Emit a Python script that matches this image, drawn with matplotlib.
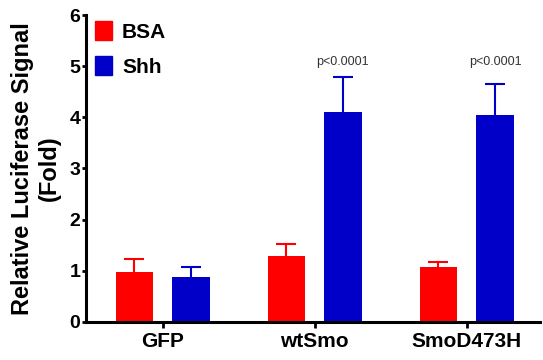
import matplotlib.pyplot as plt
import numpy as np
from matplotlib.patches import Patch

plt.rcParams['font.family'] = ['Liberation Sans', 'DejaVu Sans']

# Data
groups = ['GFP', 'wtSmo', 'SmoD473H']
bsa = [0.98, 1.29, 1.07]
bsa_err = [0.24, 0.23, 0.11]
shh = [0.87, 4.10, 4.04]
shh_err = [0.20, 0.69, 0.62]
p_labels = ['', 'p<0.0001', 'p<0.0001']

red = '#ff0000'
blue = '#0000c8'

fig = plt.figure(figsize=(5.43, 3.6), dpi=100)
ax = fig.add_axes([0.158, 0.106, 0.836, 0.852])

x = np.arange(len(groups))
off = 0.186
w = 0.247
cap = 0.066

# upper-only error bars with a cap on top
for xs, ys, es, c in [(x - off, bsa, bsa_err, red), (x + off, shh, shh_err, blue)]:
    ys = np.array(ys)
    es = np.array(es)
    ax.vlines(xs, ys, ys + es, colors=c, linewidth=1.5, zorder=1)
    ax.hlines(ys + es, xs - cap, xs + cap, colors=c, linewidth=1.5, zorder=1)
    ax.bar(xs, ys, width=w, color=c, zorder=2)

for xi, lab in zip(x + off, p_labels):
    if lab:
        ax.text(xi, 5.08, lab, ha='center', va='center', fontsize=9, color='#333333')

ax.set_xlim(-0.505, 2.48)
ax.set_ylim(0, 6)
ax.set_yticks(range(7))
ax.set_xticks(x)
ax.set_xticklabels(groups, fontsize=15, fontweight='bold')
for t in ax.get_yticklabels():
    t.set_fontsize(14)
    t.set_fontweight('bold')
ax.tick_params(axis='y', length=3, width=2, pad=1)
ax.tick_params(axis='x', length=4, width=2, pad=3)

ax.spines['top'].set_visible(False)
ax.spines['right'].set_visible(False)
ax.spines['left'].set_linewidth(2.2)
ax.spines['bottom'].set_linewidth(2.2)
ax.spines['left'].set_zorder(3)
ax.spines['bottom'].set_zorder(3)

ax.set_ylabel('Relative Luciferase Signal\n(Fold)', fontsize=17, fontweight='bold',
              linespacing=1.25, labelpad=6)

handles = [Patch(color=red, label='BSA'), Patch(color=blue, label='Shh')]
leg = ax.legend(handles=handles, loc='upper left', bbox_to_anchor=(0.02, 0.98),
                frameon=False, handlelength=0.8, handleheight=1.0, handletextpad=0.5,
                labelspacing=0.7, borderpad=0, borderaxespad=0,
                prop={'size': 15, 'weight': 'bold'})

fig.savefig('out.png', dpi=100)
